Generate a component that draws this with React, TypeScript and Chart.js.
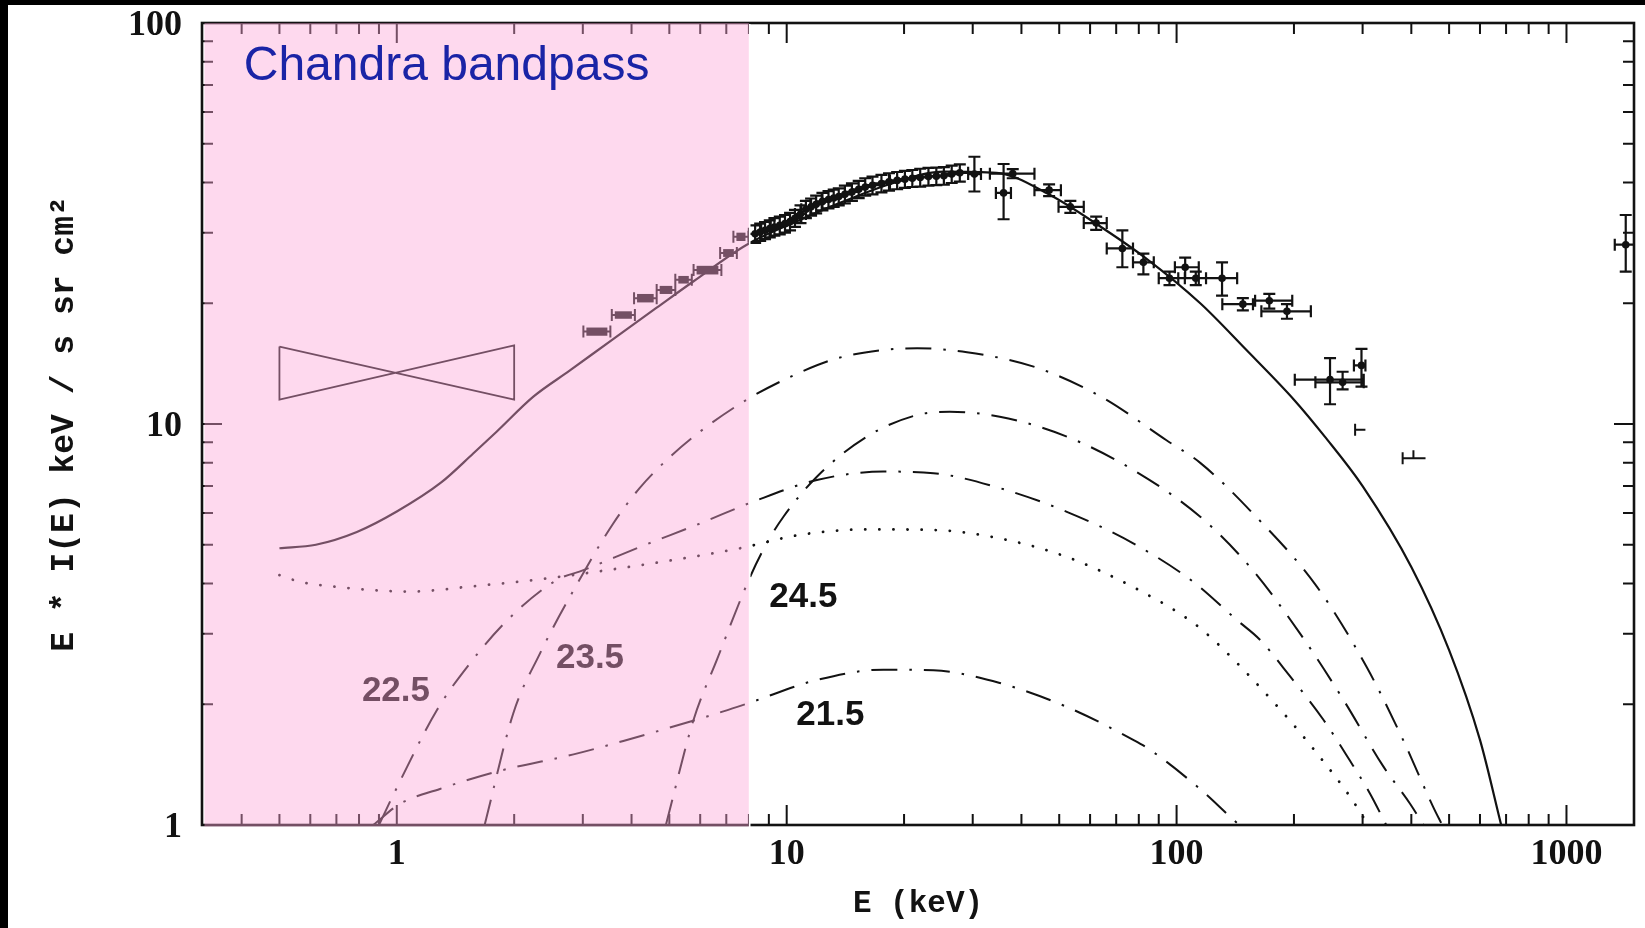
import { useEffect, useRef } from "react";
import { Chart, registerables } from "chart.js";

Chart.register(...registerables);

const INK = "#121212";
const BAND_FILL = "rgba(252, 165, 214, 0.42)";
const CAPTION_BLUE = "#1a24a6";

// Axis ranges (keV on x, E*I(E) on y)
const X_MIN = 0.3165;
const X_MAX = 1490;
const Y_MIN = 1;
const Y_MAX = 100;

// Labelled ticks
const xTickLabels = [1, 10, 100, 1000];
const yTickLabels = [1, 10, 100];

// Inward tick marks on all four sides of the frame
const xMajorTicks = [1, 10, 100, 1000];
const xMinorTicks = [
  0.4, 0.5, 0.6, 0.7, 0.8, 0.9, 2, 3, 4, 5, 6, 7, 8, 9, 20, 30, 40, 50, 60, 70, 80, 90,
  200, 300, 400, 500, 600, 700, 800, 900,
];
const yMajorTicks = [1, 10, 100];
const yMinorTicks = [2, 3, 4, 5, 6, 7, 8, 9, 20, 30, 40, 50, 60, 70, 80, 90];

// Total model spectrum (solid)
const totalE = [0.5, 0.62, 0.79, 1.0, 1.3, 1.57, 1.8, 2.24, 2.78, 3.53, 4.64, 5.77, 7.9, 10.6, 13.6, 18.6, 25.3, 34.5, 47, 64, 83, 115, 150, 200, 240, 300, 400, 500, 600, 680];
const totalV = [4.9, 5.0, 5.38, 6.05, 7.15, 8.44, 9.55, 11.7, 13.6, 16.1, 19.5, 22.7, 28.0, 32.0, 35.5, 39.8, 42.6, 42.3, 37.4, 31.0, 26.0, 20.0, 15.4, 11.5, 9.3, 7.0, 4.4, 2.73, 1.63, 1.0];

// Unabsorbed component (dotted)
const unabsE = [0.5, 0.565, 0.69, 1.08, 1.57, 2.33, 3.46, 5.12, 7.6, 10.8, 16, 24, 35, 52, 77, 110, 127, 188, 229, 278, 310];
const unabsV = [4.2, 4.04, 3.93, 3.82, 3.94, 4.1, 4.32, 4.58, 4.9, 5.29, 5.46, 5.44, 5.19, 4.67, 3.93, 3.2, 2.84, 1.9, 1.51, 1.18, 1.0];

// Absorbed components, log NH = 21.5 / 22.5 / 23.5 / 24.5 (dash-dot)
const nh215E = [0.87, 1.02, 1.29, 1.81, 2.84, 3.81, 5.12, 6.88, 8.06, 11.95, 17.7, 23.8, 35.2, 52.3, 77.4, 85.5, 114.8, 140, 145];
const nh215V = [1.0, 1.13, 1.23, 1.36, 1.5, 1.62, 1.76, 1.92, 2.02, 2.3, 2.44, 2.43, 2.26, 1.97, 1.63, 1.54, 1.23, 1.03, 1.0];

const nh225E = [0.9, 0.98, 1.27, 1.54, 1.92, 2.57, 3.01, 4.21, 6.0, 8.2, 11.95, 17.7, 23.8, 35.2, 52.3, 77.4, 110, 143, 164, 196, 238, 278, 313, 345];
const nh225V = [1.0, 1.19, 1.94, 2.53, 3.24, 4.08, 4.32, 4.94, 5.65, 6.4, 7.25, 7.61, 7.54, 6.92, 6.04, 5.04, 4.05, 3.24, 2.89, 2.34, 1.83, 1.45, 1.2, 1.0];

const nh235E = [1.68, 1.99, 2.33, 2.84, 3.59, 4.2, 5.0, 6.0, 7.9, 10.2, 13.2, 17.7, 21.6, 29, 43, 64, 94, 115, 154, 229, 307, 381, 455, 480];
const nh235V = [1.0, 1.9, 2.68, 3.85, 5.65, 6.93, 8.25, 9.58, 11.5, 13.1, 14.5, 15.3, 15.45, 15.1, 13.9, 11.7, 9.12, 8.0, 6.1, 3.93, 2.48, 1.63, 1.11, 1.0];

const nh245E = [4.9, 5.77, 6.62, 8.06, 8.89, 9.81, 11.95, 16.05, 21.6, 26.2, 35.2, 52.3, 77.4, 115, 154, 207, 268, 339, 397, 430];
const nh245V = [1.0, 1.83, 2.58, 4.16, 5.04, 5.87, 7.39, 9.3, 10.53, 10.73, 10.43, 9.3, 7.68, 5.87, 4.41, 3.01, 2.05, 1.4, 1.13, 1.0];

// Soft-band power-law bow-tie (0.5-2 keV)
const bowE = [0.5, 2.0, 2.0, 0.5, 0.5];
const bowV = [15.6, 11.5, 15.7, 11.5, 15.6];

// Low-energy measurements (error boxes)
const lowE = [3.26, 3.81, 4.34, 4.9, 5.44, 6.25, 7.1, 7.6];
const lowElo = [3.01, 3.56, 4.06, 4.64, 5.18, 5.77, 6.75, 7.3];
const lowEhi = [3.53, 4.08, 4.64, 5.18, 5.71, 6.8, 7.45, 7.98];
const lowV = [17.0, 18.7, 20.6, 21.6, 22.9, 24.2, 26.7, 29.3];
const lowVlo = [16.6, 18.3, 20.1, 21.1, 22.4, 23.6, 26.1, 28.6];
const lowVhi = [17.4, 19.1, 21.1, 22.1, 23.4, 24.8, 27.3, 30.0];

// Hard X-ray measurements (points with error crosses)
const hardE = [
  8.3, 8.55, 8.8, 9.05, 9.3, 9.6, 9.9, 10.2, 10.5, 10.85, 11.2, 11.55, 11.9, 12.35, 12.8, 13.2, 13.6, 14.1, 14.7, 15.3, 15.9, 16.6, 17.5, 18.3, 19.2, 20.1, 21.0, 22.0, 23.1, 24.2, 25.3, 26.5, 27.8,
  30.3, 36.0, 38.0, 47.1, 53.4, 62.2, 72.6, 82.2, 95.9, 105.2, 112, 130.8, 147.9, 172.9, 191.9, 247.5, 266.6, 298, 1419,
];
const hardElo = [
  8.0, 8.3, 8.6, 8.8, 9.1, 9.3, 9.6, 9.9, 10.2, 10.5, 10.9, 11.2, 11.5, 11.9, 12.3, 12.8, 13.2, 13.6, 14.1, 14.7, 15.3, 15.9, 16.6, 17.5, 18.4, 19.2, 20.1, 21.0, 22.0, 23.1, 24.2, 25.3, 26.5,
  29.2, 34.4, 33.2, 43.2, 49.8, 57.8, 66.2, 77.3, 90, 99, 105, 114, 131, 159, 165, 201, 227, 285, 1330,
];
const hardEhi = [
  8.6, 8.8, 9.1, 9.3, 9.6, 9.9, 10.2, 10.5, 10.9, 11.2, 11.5, 11.9, 12.3, 12.8, 13.2, 13.6, 14.1, 14.7, 15.3, 15.9, 16.6, 17.5, 18.4, 19.2, 20.1, 21.0, 22.0, 23.1, 24.2, 25.3, 26.5, 27.8, 29.2,
  31.5, 37.6, 43.2, 50.5, 57.8, 66.2, 77.3, 87.4, 101, 114, 119, 143, 157, 198, 221, 302, 302, 305, 1510,
];
const hardV = [
  29.8, 30.1, 30.4, 30.7, 31.0, 31.3, 31.6, 32.0, 32.6, 33.4, 34.3, 34.8, 35.3, 35.9, 36.3, 36.6, 36.9, 37.4, 37.9, 38.5, 39.0, 39.4, 39.8, 40.2, 40.5, 40.8, 41.0, 41.2, 41.4, 41.5, 41.6, 42.0, 42.3,
  42.0, 37.7, 42.1, 38.3, 34.8, 31.7, 27.4, 25.3, 23.1, 24.6, 23.1, 23.1, 19.9, 20.3, 19.1, 12.9, 12.7, 14.0, 28.0,
];
const hardVlo = [
  28.3, 28.6, 28.9, 29.2, 29.5, 29.7, 30.0, 30.4, 31.0, 31.7, 32.6, 33.1, 33.5, 34.1, 34.5, 34.8, 35.1, 35.5, 36.0, 36.6, 37.1, 37.4, 37.8, 38.2, 38.5, 38.8, 39.0, 39.1, 39.3, 39.4, 39.5, 39.9, 40.2,
  38.0, 32.4, 41.0, 37.0, 33.6, 30.5, 24.6, 23.6, 22.2, 23.1, 22.2, 20.9, 19.2, 19.4, 18.3, 11.2, 12.2, 12.4, 24.0,
];
const hardVhi = [
  31.3, 31.6, 31.9, 32.2, 32.6, 32.9, 33.2, 33.6, 34.2, 35.1, 36.0, 36.5, 37.1, 37.7, 38.1, 38.4, 38.7, 39.3, 39.8, 40.4, 41.0, 41.4, 41.8, 42.2, 42.5, 42.8, 43.0, 43.3, 43.5, 43.6, 43.7, 44.1, 44.4,
  46.4, 44.5, 43.2, 39.6, 36.0, 32.9, 30.4, 26.6, 24.0, 26.0, 24.0, 25.3, 20.6, 21.1, 19.9, 14.6, 13.5, 15.4, 33.2,
];

// Partial error bars without a plotted centre
const partE = [296, 405];
const partElo = [287, 380];
const partEhi = [305, 435];
const partV = [9.67, 8.22];
const partVhi = [9.67, 8.6];

// Column-density labels for the dash-dot curves
const nhLabelText = ["22.5", "23.5", "24.5", "21.5"];
const nhLabelE = [0.995, 3.13, 11.03, 12.94];
const nhLabelV = [2.15, 2.61, 3.7, 1.88];

// Chandra band and its caption
const bandE = [X_MIN, 8.0];
const captionText = "Chandra bandpass";
const captionE = 0.405;
const captionV = 72.1;

const DASH_DOT = [26, 12, 2.5, 12];

const pts = (es: number[], vs: number[]) => es.map((e, i) => ({ x: e, y: vs[i] }));

const curveSet = (label: string, es: number[], vs: number[], extra: Record<string, unknown> = {}) => ({
  label,
  data: pts(es, vs),
  showLine: true,
  pointRadius: 0,
  borderColor: INK,
  backgroundColor: INK,
  borderWidth: 2,
  cubicInterpolationMode: "monotone",
  ...extra,
});

const decorPlugin = {
  id: "spectrumDecor",
  afterDatasetsDraw(chart: any) {
    const { ctx, chartArea: a } = chart;
    const sx = chart.scales.x;
    const sy = chart.scales.y;
    const X = (e: number) => sx.getPixelForValue(e);
    const Y = (v: number) => sy.getPixelForValue(v);

    ctx.save();
    ctx.beginPath();
    ctx.rect(a.left, a.top, a.right - a.left, a.bottom - a.top);
    ctx.clip();
    ctx.strokeStyle = INK;
    ctx.fillStyle = INK;
    ctx.lineWidth = 2.2;
    ctx.lineCap = "butt";

    // error crosses on the hard X-ray points
    const cap = 6;
    ctx.beginPath();
    for (let i = 0; i < hardE.length; i++) {
      const x = X(hardE[i]);
      const y = Y(hardV[i]);
      const xl = X(hardElo[i]);
      const xr = X(hardEhi[i]);
      const yt = Y(hardVhi[i]);
      const yb = Y(hardVlo[i]);
      ctx.moveTo(xl, y); ctx.lineTo(xr, y);
      ctx.moveTo(xl, y - cap); ctx.lineTo(xl, y + cap);
      ctx.moveTo(xr, y - cap); ctx.lineTo(xr, y + cap);
      ctx.moveTo(x, yt); ctx.lineTo(x, yb);
      ctx.moveTo(x - cap, yt); ctx.lineTo(x + cap, yt);
      ctx.moveTo(x - cap, yb); ctx.lineTo(x + cap, yb);
    }
    ctx.stroke();

    // error boxes on the low-energy points
    ctx.lineWidth = 2;
    ctx.beginPath();
    for (let i = 0; i < lowE.length; i++) {
      const y = Y(lowV[i]);
      const xl = X(lowElo[i]);
      const xr = X(lowEhi[i]);
      ctx.moveTo(xl, y); ctx.lineTo(xr, y);
      ctx.moveTo(xl, y - 6); ctx.lineTo(xl, y + 6);
      ctx.moveTo(xr, y - 6); ctx.lineTo(xr, y + 6);
    }
    ctx.stroke();
    for (let i = 0; i < lowE.length; i++) {
      const xl = X(lowElo[i]);
      const xr = X(lowEhi[i]);
      const yt = Y(lowVhi[i]);
      const yb = Y(lowVlo[i]);
      ctx.fillRect(xl + 3, yt, xr - xl - 6, yb - yt);
    }

    // partial bars
    ctx.beginPath();
    for (let i = 0; i < partE.length; i++) {
      const y = Y(partV[i]);
      const xl = X(partElo[i]);
      ctx.moveTo(xl, y); ctx.lineTo(X(partEhi[i]), y);
      ctx.moveTo(xl, y - cap); ctx.lineTo(xl, y + cap);
      ctx.moveTo(X(partE[i]), y); ctx.lineTo(X(partE[i]), Y(partVhi[i]));
    }
    ctx.stroke();

    // column-density labels
    ctx.font = "bold 35px 'Liberation Sans', Arial, sans-serif";
    ctx.textAlign = "center";
    ctx.textBaseline = "middle";
    for (let i = 0; i < nhLabelText.length; i++) {
      ctx.fillText(nhLabelText[i], X(nhLabelE[i]), Y(nhLabelV[i]));
    }
    ctx.restore();

    // frame with inward ticks
    ctx.save();
    ctx.strokeStyle = INK;
    ctx.lineWidth = 2;
    ctx.beginPath();
    const tick = (vals: number[], len: number) => {
      for (const e of vals) {
        const x = X(e);
        ctx.moveTo(x, a.bottom); ctx.lineTo(x, a.bottom - len);
        ctx.moveTo(x, a.top); ctx.lineTo(x, a.top + len);
      }
    };
    const ytick = (vals: number[], len: number) => {
      for (const v of vals) {
        const y = Y(v);
        ctx.moveTo(a.left, y); ctx.lineTo(a.left + len, y);
        ctx.moveTo(a.right, y); ctx.lineTo(a.right - len, y);
      }
    };
    tick(xMajorTicks, 20);
    tick(xMinorTicks, 11);
    ytick(yMajorTicks, 20);
    ytick(yMinorTicks, 11);
    ctx.stroke();
    ctx.lineWidth = 2.6;
    ctx.strokeRect(a.left, a.top, a.right - a.left, a.bottom - a.top);

    // translucent Chandra band
    const bx0 = Math.max(a.left + 2.5, X(bandE[0]));
    const bx1 = X(bandE[1]);
    ctx.fillStyle = BAND_FILL;
    ctx.fillRect(bx0, a.top, bx1 - bx0, a.bottom - a.top + 1.5);
    ctx.strokeStyle = "#ffffff";
    ctx.lineWidth = 1.6;
    ctx.beginPath();
    ctx.moveTo(bx1 + 0.8, a.top + 1);
    ctx.lineTo(bx1 + 0.8, a.bottom + 2);
    ctx.stroke();

    ctx.fillStyle = CAPTION_BLUE;
    ctx.font = "48px 'Liberation Sans', Arial, sans-serif";
    ctx.textAlign = "left";
    ctx.textBaseline = "alphabetic";
    ctx.fillText(captionText, X(captionE), Y(captionV));
    ctx.restore();
  },
};

export default function App() {
  const canvasRef = useRef<HTMLCanvasElement | null>(null);

  useEffect(() => {
    document.body.style.margin = "0";
    document.body.style.background = "#000";
    const canvas = canvasRef.current;
    if (!canvas) return;

    const tickFont = { family: "'Liberation Serif', 'Times New Roman', serif", size: 36, weight: "bold" as const, lineHeight: 1.2 };
    const yTitleFont = { family: "'Liberation Mono', 'Courier New', monospace", size: 33, weight: "bold" as const, lineHeight: 1.2 };
    const xTitleFont = { family: "'Liberation Mono', 'Courier New', monospace", size: 31, weight: "bold" as const, lineHeight: 1.2 };

    const chart = new Chart(canvas, {
      type: "scatter",
      data: {
        datasets: [
          curveSet("total", totalE, totalV, { borderWidth: 2.2 }),
          curveSet("unabsorbed", unabsE, unabsV, { borderDash: [0.1, 14], borderCapStyle: "round", borderWidth: 2.8 }),
          curveSet("log NH 21.5", nh215E, nh215V, { borderDash: DASH_DOT }),
          curveSet("log NH 22.5", nh225E, nh225V, { borderDash: DASH_DOT }),
          curveSet("log NH 23.5", nh235E, nh235V, { borderDash: DASH_DOT }),
          curveSet("log NH 24.5", nh245E, nh245V, { borderDash: DASH_DOT }),
          {
            label: "soft band",
            data: pts(bowE, bowV),
            showLine: true,
            pointRadius: 0,
            borderColor: INK,
            borderWidth: 1.8,
            tension: 0,
          },
          {
            label: "hard X-ray",
            data: pts(hardE, hardV),
            showLine: false,
            pointRadius: 3.8,
            pointBackgroundColor: INK,
            pointBorderWidth: 0,
          },
          {
            label: "low energy",
            data: pts(lowE, lowV),
            showLine: false,
            pointRadius: 0,
          },
        ] as any,
      },
      options: {
        responsive: false,
        maintainAspectRatio: false,
        animation: false,
        devicePixelRatio: 1,
        events: [],
        layout: { autoPadding: false, padding: { top: 18, right: 11, left: 0, bottom: 0 } },
        plugins: { legend: { display: false }, tooltip: { enabled: false } },
        scales: {
          x: {
            type: "logarithmic",
            position: "bottom",
            bounds: "data",
            min: X_MIN,
            max: X_MAX,
            grid: { display: false, drawTicks: false },
            border: { display: false },
            afterBuildTicks: (s: any) => {
              s.ticks = xTickLabels.map((v) => ({ value: v }));
            },
            afterFit: (s: any) => {
              s.height = 103;
              s.paddingLeft = 0;
              s.paddingRight = 0;
            },
            ticks: {
              autoSkip: false,
              maxRotation: 0,
              padding: 8,
              color: INK,
              font: tickFont,
              callback: (v: any) => String(v),
            },
            title: {
              display: true,
              text: "E (keV)",
              color: INK,
              font: xTitleFont,
              padding: { top: 0, bottom: 5 },
            },
          },
          y: {
            type: "logarithmic",
            position: "left",
            bounds: "data",
            min: Y_MIN,
            max: Y_MAX,
            grid: { display: false, drawTicks: false },
            border: { display: false },
            afterBuildTicks: (s: any) => {
              s.ticks = yTickLabels.map((v) => ({ value: v }));
            },
            afterFit: (s: any) => {
              s.width = 194;
              s.paddingTop = 0;
              s.paddingBottom = 0;
            },
            ticks: {
              autoSkip: false,
              padding: 20,
              labelOffset: 3,
              color: INK,
              font: tickFont,
              callback: (v: any) => String(v),
            },
            title: {
              display: true,
              text: "E * I(E) keV / s sr cm\u00b2",
              color: INK,
              font: yTitleFont,
              padding: { top: 37, bottom: 0 },
            },
          },
        },
      } as any,
      plugins: [decorPlugin],
    });

    return () => chart.destroy();
  }, []);

  return (
    <div style={{ position: "absolute", left: 8, top: 5, width: 1637, height: 923, background: "#ffffff" }}>
      <canvas ref={canvasRef} width={1637} height={923} style={{ display: "block", width: 1637, height: 923 }} />
    </div>
  );
}
